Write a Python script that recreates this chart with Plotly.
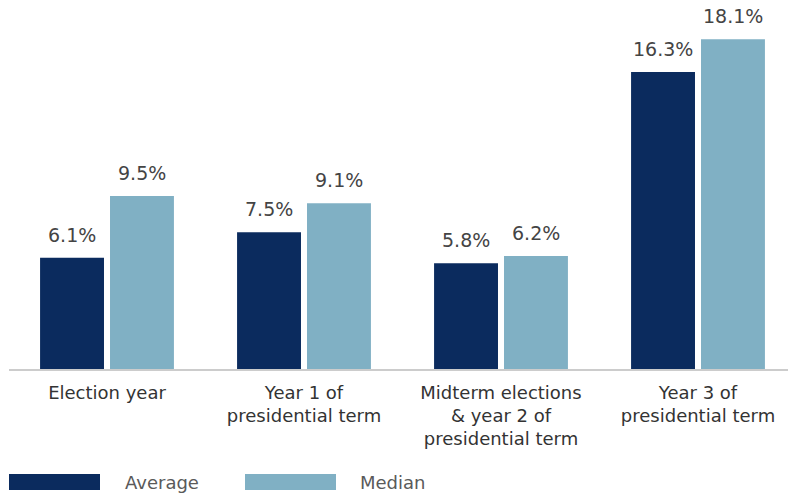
import plotly.graph_objects as go

categories = ["Election year", "Year 1 of<br>presidential term",
              "Midterm elections<br>& year 2 of<br>presidential term",
              "Year 3 of<br>presidential term"]
average = [6.1, 7.5, 5.8, 16.3]
median = [9.5, 9.1, 6.2, 18.1]
series_names = ["Average", "Median"]
colors = ["#0b2b5e", "#80b0c4"]

FONT = "DejaVu Sans"
W, H = 788, 496
ml, mr, mt, mb = 9, 0, 20, 127
ph = H - mt - mb
pw = W - ml - mr
bargap = 0.29
groupgap = 0.086

fig = go.Figure()
for name, vals, col in zip(series_names, [average, median], colors):
    fig.add_trace(go.Bar(x=list(range(len(categories))), y=vals, name=name,
                         marker=dict(color=col, line=dict(width=0)),
                         showlegend=False, hoverinfo="skip"))

annotations = []
off = (1 - bargap) / 4
for si, vals in enumerate([average, median]):
    for i, v in enumerate(vals):
        annotations.append(dict(x=i + (-off if si == 0 else off), y=v, xref="x", yref="y",
                                text=f"{v:.1f}%", showarrow=False, yanchor="bottom",
                                yshift=10, font=dict(size=19, color="#444444", family=FONT)))

def px_x(X):
    return (X - ml) / pw

def px_y(Y):
    return (H - mb - Y) / ph

shapes = []
legend_pos = [(9, 100, 123), (245, 336, 358)]
for (x0, x1, tx), name, col in zip(legend_pos, series_names, colors):
    shapes.append(dict(type="rect", xref="paper", yref="paper",
                       x0=px_x(x0), x1=px_x(x1), y0=px_y(490), y1=px_y(474),
                       fillcolor=col, line=dict(width=0)))
    annotations.append(dict(x=px_x(tx), y=px_y(482), xref="paper", yref="paper",
                            text=name, showarrow=False, xanchor="left", yanchor="middle",
                            font=dict(size=18, color="#5a5a5a", family=FONT)))

span = pw / 197.0
x0r = -(107 - ml) / 197.0
fig.update_layout(
    width=W, height=H, margin=dict(l=ml, r=mr, t=mt, b=mb),
    paper_bgcolor="white", plot_bgcolor="white",
    barmode="group", bargap=bargap, bargroupgap=groupgap,
    font=dict(family=FONT, color="#333333", size=16),
    xaxis=dict(tickmode="array", tickvals=list(range(len(categories))), ticktext=categories,
               range=[x0r, x0r + span], showline=True, linecolor="#cccccc", linewidth=2,
               showgrid=False, zeroline=False, ticks="outside", ticklen=6,
               tickcolor="rgba(0,0,0,0)", tickfont=dict(size=18, color="#333333")),
    yaxis=dict(range=[0, ph / 18.22], visible=False, showgrid=False, zeroline=False),
    annotations=annotations, shapes=shapes,
)
fig.write_html("out.html", config={"displayModeBar": False},
               post_script="document.body.style.margin='0';document.body.style.padding='0';")
